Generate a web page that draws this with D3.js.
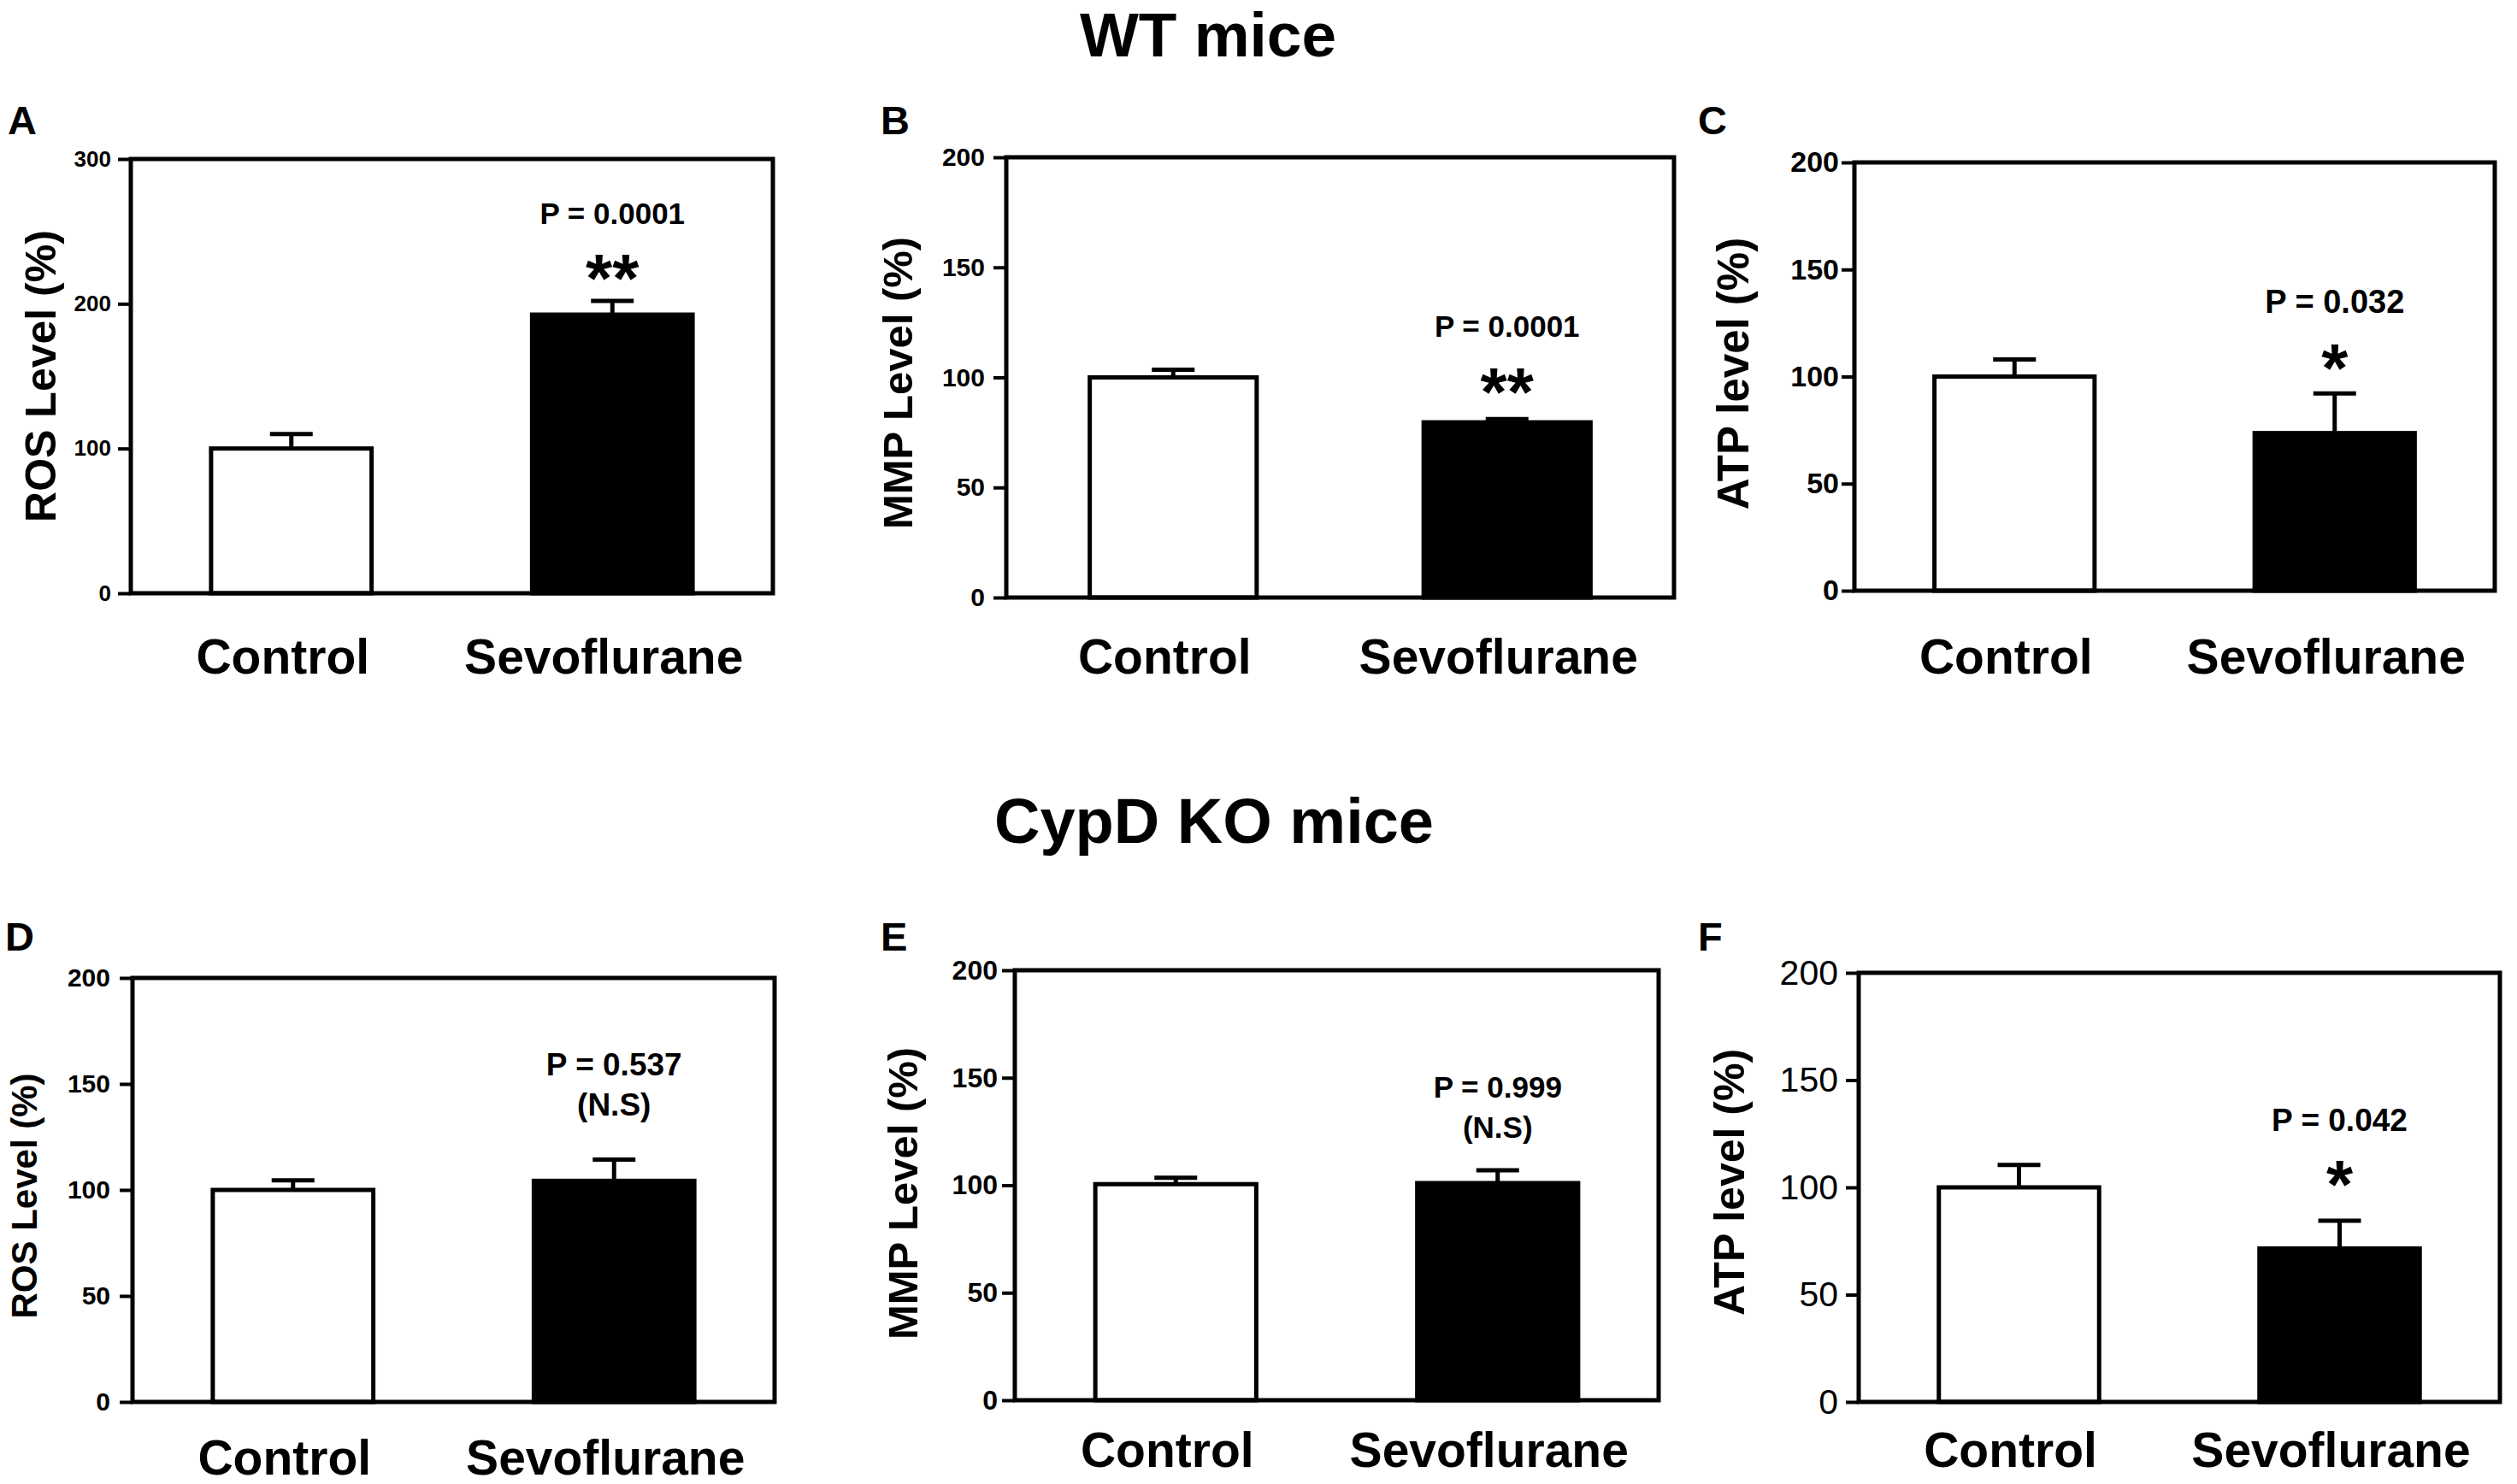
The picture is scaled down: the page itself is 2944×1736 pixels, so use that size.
<!DOCTYPE html>
<html><head><meta charset="utf-8">
<script src="https://cdn.jsdelivr.net/npm/d3@7"></script>
<style>
html,body{margin:0;padding:0;background:#fff;}
svg{display:block;}
text{font-family:"Liberation Sans",Arial,Helvetica,sans-serif;fill:#000;}
</style>
</head><body>
<svg id="chart" width="2944" height="1736"></svg>
<script>
// ---- data ----
const groupTitles = ["WT mice", "CypD KO mice"];
const panelLetters = ["A", "B", "C", "D", "E", "F"];
const categories = ["Control", "Sevoflurane"];
const yAxisTitles = ["ROS Level (%)", "MMP Level (%)", "ATP level (%)", "ROS Level (%)", "MMP Level (%)", "ATP level (%)"];
const yMaxValues = [300, 200, 200, 200, 200, 200];
const tickValuesROS_WT = [0, 100, 200, 300];
const tickValuesOther = [0, 50, 100, 150, 200];
const controlMeans = [100, 100, 100, 100, 100.5, 100];
const controlErrors = [10, 3.5, 8, 4.5, 3, 10.5];
const sevoMeans = [192.5, 79.6, 73.6, 104.3, 101, 71.5];
const sevoErrors = [9.5, 1.5, 18.5, 10, 6, 13];
const pValueLabels = ["P = 0.0001", "P = 0.0001", "P = 0.032", "P = 0.537", "P = 0.999", "P = 0.042"];
const significanceMarks = ["**", "**", "*", "(N.S)", "(N.S)", "*"];

// ---- layout (pixels) ----
const layout = [
  {l:153, r:904, t:186, b:694, lx:9, ly:157, tf:26, tw:"bold", tp:8, ylx:47, yly:440, ylf:50, pf:35, pY:262, sY:353, sf:80, cY:788},
  {l:1177, r:1958, t:184, b:699, lx:1030, ly:157, tf:30, tw:"bold", tp:10, ylx:1049, yly:448, ylf:49, pf:35, pY:394, sY:486, sf:80, cY:788},
  {l:2169, r:2918, t:190, b:691, lx:1986, ly:157, tf:34, tw:"bold", tp:3, ylx:2027, yly:437, ylf:51, pf:38, pY:366, sY:458, sf:80, cY:788},
  {l:155, r:906, t:1144, b:1640, lx:6, ly:1112, tf:30, tw:"bold", tp:11, ylx:28, yly:1399, ylf:42, pf:37, pY:1258, sY:1305, sf:37, cY:1725},
  {l:1187, r:1940, t:1135, b:1638, lx:1030, ly:1112, tf:32, tw:"bold", tp:5, ylx:1055, yly:1396, ylf:49, pf:35, pY:1284, sY:1331, sf:35, cY:1716},
  {l:2174, r:2924, t:1138, b:1640, lx:1986, ly:1112, tf:41, tw:"normal", tp:9, ylx:2022, yly:1383, ylf:50, pf:37, pY:1323, sY:1413, sf:80, cY:1716}
];
const titlePos = [{x:1413, y:66, f:73}, {x:1420, y:986, f:74}];

const svg = d3.select("#chart");
svg.append("rect").attr("width", 2944).attr("height", 1736).attr("fill", "#fff");

groupTitles.forEach((t, i) => {
  svg.append("text").attr("x", titlePos[i].x).attr("y", titlePos[i].y)
    .attr("text-anchor", "middle").attr("font-size", titlePos[i].f).attr("font-weight", "bold").text(t);
});

panelLetters.forEach((letter, i) => {
  const L = layout[i];
  const g = svg.append("g");
  const x = d3.scaleBand().domain(categories).range([L.l, L.r]).paddingInner(0.5).paddingOuter(0.25);
  const y = d3.scaleLinear().domain([0, yMaxValues[i]]).range([L.b, L.t]);
  const means = [controlMeans[i], sevoMeans[i]];
  const errs = [controlErrors[i], sevoErrors[i]];

  // panel letter
  g.append("text").attr("x", L.lx).attr("y", L.ly).attr("font-size", 47).attr("font-weight", "bold").text(letter);

  // bars
  g.selectAll("rect.bar").data(categories).join("rect").attr("class", "bar")
    .attr("x", d => x(d)).attr("width", x.bandwidth())
    .attr("y", (d, k) => y(means[k])).attr("height", (d, k) => y(0) - y(means[k]))
    .attr("fill", (d, k) => k === 0 ? "#fff" : "#000")
    .attr("stroke", "#000").attr("stroke-width", 5);

  // error bars (upper only)
  categories.forEach((c, k) => {
    const cx = x(c) + x.bandwidth() / 2;
    g.append("line").attr("x1", cx).attr("x2", cx).attr("y1", y(means[k])).attr("y2", y(means[k] + errs[k]))
      .attr("stroke", "#000").attr("stroke-width", 5);
    g.append("line").attr("x1", cx - 25).attr("x2", cx + 25).attr("y1", y(means[k] + errs[k])).attr("y2", y(means[k] + errs[k]))
      .attr("stroke", "#000").attr("stroke-width", 5);
  });

  // frame
  g.append("rect").attr("x", L.l).attr("y", L.t).attr("width", L.r - L.l).attr("height", L.b - L.t)
    .attr("fill", "none").attr("stroke", "#000").attr("stroke-width", 5);

  // y axis
  const ax = g.append("g").attr("transform", `translate(${L.l},0)`)
    .call(d3.axisLeft(y).tickValues(i === 0 ? tickValuesROS_WT : tickValuesOther).tickSize(15).tickPadding(L.tp).tickFormat(d3.format("d")));
  ax.select(".domain").remove();
  ax.selectAll(".tick line").attr("stroke", "#000").attr("stroke-width", 4);
  ax.selectAll(".tick text").attr("font-size", L.tf).attr("font-weight", L.tw)
    .attr("font-family", "'Liberation Sans',Arial,sans-serif").attr("fill", "#000");

  // y axis title
  g.append("text").attr("transform", `translate(${L.ylx},${L.yly}) rotate(-90)`)
    .attr("text-anchor", "middle").attr("dy", "0.36em").attr("font-size", L.ylf).attr("font-weight", "bold")
    .text(yAxisTitles[i]);

  // category labels
  g.selectAll("text.cat").data(categories).join("text").attr("class", "cat")
    .attr("x", d => x(d) + x.bandwidth() / 2 - 10).attr("y", L.cY)
    .attr("text-anchor", "middle").attr("font-size", 57).attr("font-weight", "bold").text(d => d);

  // p-value and significance
  const sx = x(categories[1]) + x.bandwidth() / 2;
  g.append("text").attr("x", sx).attr("y", L.pY).attr("text-anchor", "middle")
    .attr("font-size", L.pf).attr("font-weight", "bold").text(pValueLabels[i]);
  g.append("text").attr("x", sx).attr("y", L.sY).attr("text-anchor", "middle")
    .attr("font-size", L.sf).attr("font-weight", "bold").text(significanceMarks[i]);
});
</script>
</body></html>
